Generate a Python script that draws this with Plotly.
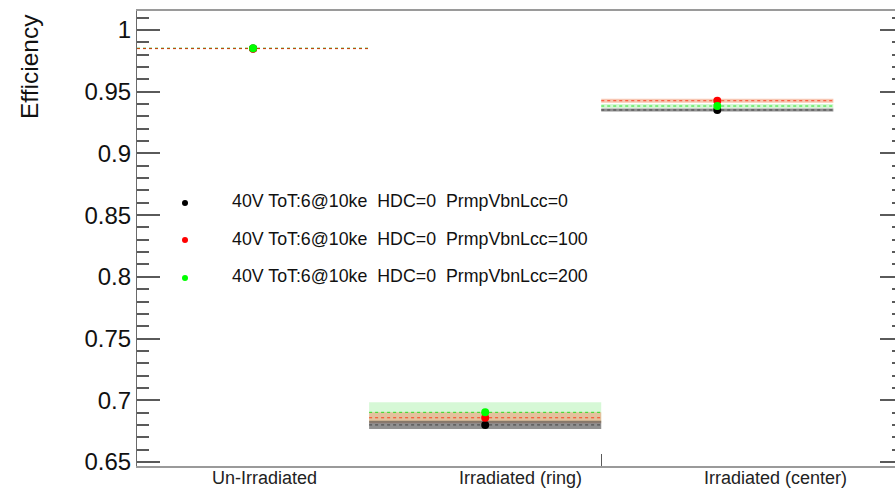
import plotly.graph_objects as go

# ---- data -------------------------------------------------------------
categories = ["Un-Irradiated", "Irradiated (ring)", "Irradiated (center)"]
series_names = [
    "40V ToT:6@10ke\u00a0\u00a0HDC=0\u00a0\u00a0PrmpVbnLcc=0",
    "40V ToT:6@10ke\u00a0\u00a0HDC=0\u00a0\u00a0PrmpVbnLcc=100",
    "40V ToT:6@10ke\u00a0\u00a0HDC=0\u00a0\u00a0PrmpVbnLcc=200",
]
eff_lcc0 = [0.9851, 0.6800, 0.9352]
eff_lcc100 = [0.9849, 0.6858, 0.9427]
eff_lcc200 = [0.9852, 0.6902, 0.9384]
err_lcc0 = [0.0003, 0.0033, 0.0012]
err_lcc100 = [0.0003, 0.0045, 0.0016]
err_lcc200 = [0.0003, 0.0082, 0.0016]
y_ticks = [0.65, 0.70, 0.75, 0.80, 0.85, 0.90, 0.95, 1.00]
y_tick_text = ["0.65", "0.7", "0.75", "0.8", "0.85", "0.9", "0.95", "1"]

# ---- styling ----------------------------------------------------------
FONT = "Liberation Sans, Arial, Helvetica, sans-serif"
W, H = 895, 488
ML, MR, MT, MB = 137, 0, 11, 22
PLOT_W = W - ML - MR
PLOT_H = H - MT - MB

x_full = 3.3                      # full frame width in bin units
x_max = x_full * PLOT_W / 766.0   # part of the frame that fits the canvas
y_range = [0.6467, 1.0154]

marker_colors = ["#000000", "#ff0000", "#00ff00"]
line_colors = ["#303030", "#ff2000", "#00dd00"]
band_colors = ["rgba(70,70,70,0.60)", "rgba(240,135,95,0.48)", "rgba(0,210,0,0.16)"]

effs = [eff_lcc0, eff_lcc100, eff_lcc200]
errs = [err_lcc0, err_lcc100, err_lcc200]

fig = go.Figure()

# error bands: one rectangle per bin, drawn green, red, then black
for s in [2, 1, 0]:
    xs, ys = [], []
    for i, (v, e) in enumerate(zip(effs[s], errs[s])):
        xs += [i, i + 1, i + 1, i, i, None]
        ys += [v - e, v - e, v + e, v + e, v - e, None]
    fig.add_trace(go.Scatter(
        x=xs, y=ys, mode="lines", fill="toself",
        fillcolor=band_colors[s], line=dict(width=0),
        hoverinfo="skip", showlegend=False))

# dotted central value line across each bin
for s in [0, 2, 1]:
    xs, ys = [], []
    for i, v in enumerate(effs[s]):
        xs += [i, i + 1, None]
        ys += [v, v, None]
    fig.add_trace(go.Scatter(
        x=xs, y=ys, mode="lines",
        line=dict(color=line_colors[s], width=1.0, dash="dot"),
        opacity=0.8, hoverinfo="skip", showlegend=False))

# efficiency points at bin centres
for s in [0, 1, 2]:
    fig.add_trace(go.Scatter(
        x=[i + 0.5 for i in range(len(categories))], y=effs[s],
        mode="markers", name=series_names[s],
        marker=dict(color=marker_colors[s], size=8, line=dict(width=0)),
        showlegend=False))

# empty trace that carries the right-hand tick axis
fig.add_trace(go.Scatter(x=[None], y=[None], yaxis="y2", showlegend=False,
                         hoverinfo="skip"))


def px_x(px):
    return (px - ML) / PLOT_W


def px_y(py):
    return (H - MB - py) / PLOT_H


# legend block
legend_rows = [203, 240, 278]
shapes = []
annotations = []
for s, row in enumerate(legend_rows):
    shapes.append(dict(
        type="circle", xref="paper", yref="paper",
        xsizemode="pixel", ysizemode="pixel",
        xanchor=px_x(185), yanchor=px_y(row),
        x0=-3, x1=3, y0=-3, y1=3,
        fillcolor=marker_colors[s], line=dict(width=0)))
    annotations.append(dict(
        text=series_names[s], xref="paper", yref="paper",
        x=px_x(230), y=px_y(row - 1.5), xanchor="left", yanchor="middle",
        showarrow=False, font=dict(family=FONT, size=17.8, color="#111")))

# bin labels, spread evenly over the full frame width
for i, name in enumerate(categories):
    annotations.append(dict(
        text=name, xref="x", yref="paper",
        x=x_full * (i + 0.5) / len(categories), y=px_y(478),
        xanchor="center", yanchor="middle", showarrow=False,
        font=dict(family=FONT, size=18, color="#222")))

# y title placed at the top end of the axis
annotations.append(dict(
    text="Efficiency", xref="paper", yref="paper",
    x=px_x(29), y=px_y(66), xanchor="center", yanchor="middle",
    textangle=-90, showarrow=False,
    font=dict(family=FONT, size=24.5, color="#111")))

tick_col = "#5a5a5a"
fig.update_layout(
    width=W, height=H,
    margin=dict(l=ML, r=MR, t=MT, b=MB, pad=0, autoexpand=False),
    paper_bgcolor="white", plot_bgcolor="white",
    showlegend=False,
    shapes=shapes, annotations=annotations,
    xaxis=dict(
        range=[0, x_max], showgrid=False, zeroline=False, automargin=False,
        showline=True, linecolor="#9a9a9a", linewidth=2, mirror=True,
        tickmode="array", tickvals=[2], ticks="inside", ticklen=12,
        tickwidth=1.2, tickcolor="#5a5a5a", showticklabels=False,
    ),
    yaxis=dict(
        range=y_range, showgrid=False, zeroline=False, automargin=False,
        showline=True, linecolor="#6a6a6a", linewidth=1.2,
        tickmode="array", tickvals=y_ticks, ticktext=y_tick_text,
        ticks="inside", ticklen=23, tickwidth=1.6, tickcolor=tick_col,
        tickfont=dict(family=FONT, size=24, color="#111"),
        minor=dict(dtick=0.01, tick0=0.65, ticks="inside", ticklen=12,
                   tickwidth=1.6, tickcolor=tick_col),
    ),
    yaxis2=dict(
        range=y_range, overlaying="y", side="right", anchor="x",
        showgrid=False, zeroline=False, showline=False, automargin=False,
        tickmode="array", tickvals=y_ticks, showticklabels=False,
        ticks="inside", ticklen=15, tickwidth=1.6, tickcolor=tick_col,
        minor=dict(dtick=0.01, tick0=0.65, ticks="inside", ticklen=3,
                   tickwidth=1.6, tickcolor=tick_col),
    ),
)

fig.write_html("out.html")
